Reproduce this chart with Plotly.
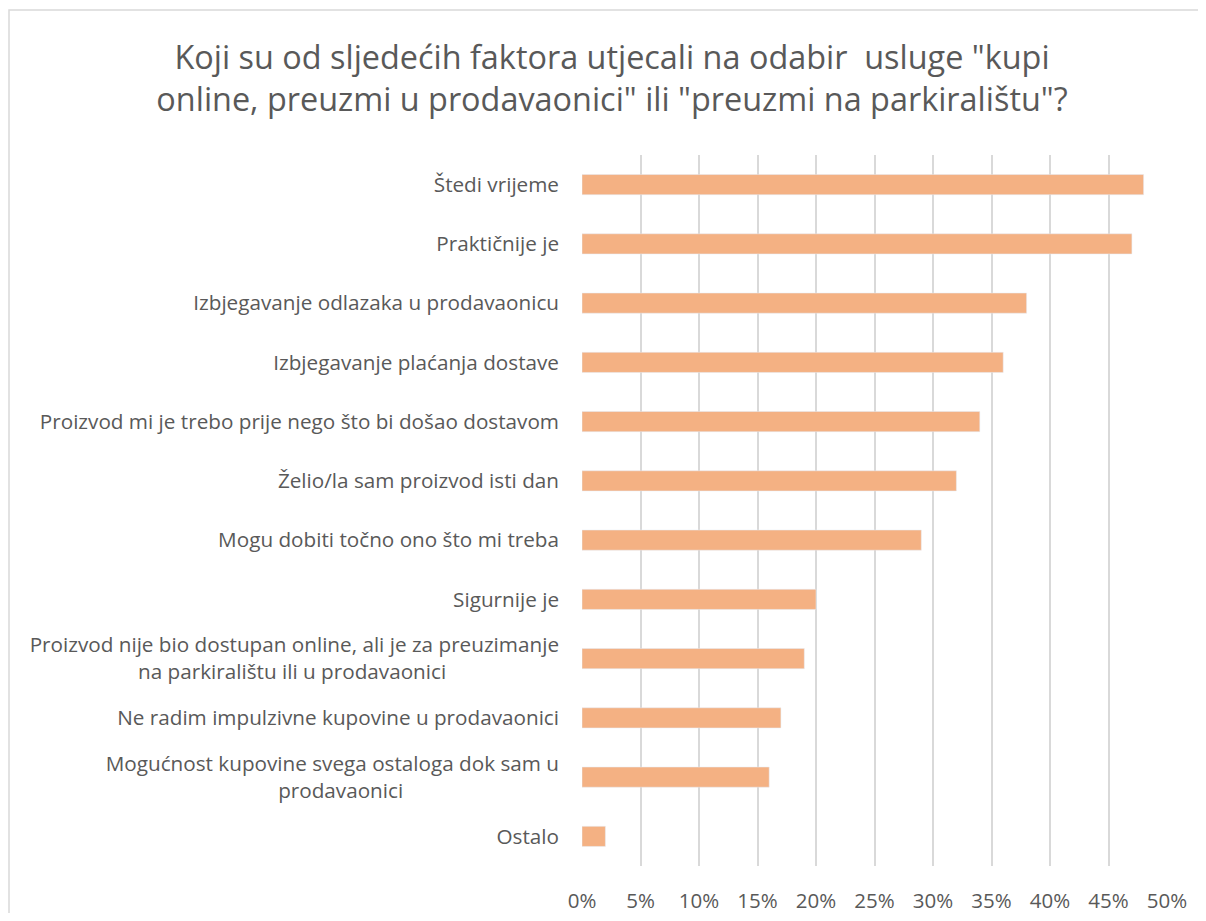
import plotly.graph_objects as go

categories = [
    "Štedi vrijeme",
    "Praktičnije je",
    "Izbjegavanje odlazaka u prodavaonicu",
    "Izbjegavanje plaćanja dostave",
    "Proizvod mi je trebo prije nego što bi došao dostavom",
    "Želio/la sam proizvod isti dan",
    "Mogu dobiti točno ono što mi treba",
    "Sigurnije je",
    "Proizvod nije bio dostupan online, ali je za preuzimanje<br>na parkiralištu ili u prodavaonici" + "\u00a0" * 21,
    "Ne radim impulzivne kupovine u prodavaonici",
    "Mogućnost kupovine svega ostaloga dok sam u<br>prodavaonici" + "\u00a0" * 29,
    "Ostalo",
]
values = [48, 47, 38, 36, 34, 32, 29, 20, 19, 17, 16, 2]
tick_vals = [0, 5, 10, 15, 20, 25, 30, 35, 40, 45, 50]
tick_text = [f"{v}%" for v in tick_vals]

title_text = ('Koji su od sljedećih faktora utjecali na odabir  usluge "kupi<br>'
              'online, preuzmi u prodavaonici" ili "preuzmi na parkiralištu"?')

fig = go.Figure(go.Bar(
    x=values,
    y=categories,
    orientation="h",
    marker=dict(color="#F4B183"),
    width=0.34,
))

fig.update_layout(
    width=1190,
    height=905,
    paper_bgcolor="white",
    plot_bgcolor="white",
    margin=dict(l=574, r=31, t=147, b=47),
    font=dict(family="Open Sans", color="#595959", size=20.7),
    title=dict(
        text=title_text,
        x=0.5076,
        xanchor="center",
        y=0.9326,
        yanchor="middle",
        font=dict(family="Open Sans", size=32.4, color="#595959"),
    ),
    showlegend=False,
    shapes=[dict(type="rect", xref="paper", yref="paper",
                 x0=-0.9795, x1=1.2, y0=-0.2, y1=1.204,
                 line=dict(color="#d9d9d9", width=1.5), fillcolor="rgba(0,0,0,0)",
                 layer="below")],
)

fig.update_xaxes(
    range=[0, 50],
    tickvals=tick_vals,
    ticktext=tick_text,
    showgrid=True,
    gridcolor="#d9d9d9",
    gridwidth=1.5,
    zeroline=False,
    showline=False,
    ticks="",
    automargin=False,
    ticklabelstandoff=20,
    tickfont=dict(size=20.5, color="#595959"),
)
fig.update_yaxes(
    categoryorder="array",
    categoryarray=categories[::-1],
    showgrid=False,
    showline=False,
    ticks="",
    automargin=False,
    ticklabelstandoff=22,
    tickfont=dict(size=20.7, color="#595959"),
)

fig.write_html("out.html")
